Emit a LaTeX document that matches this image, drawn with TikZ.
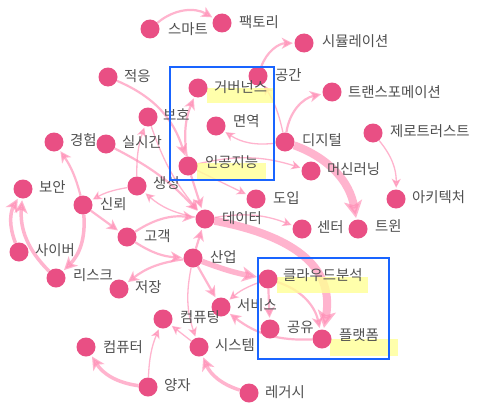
\documentclass[tikz,border=0pt]{standalone}
\usepackage{fontspec}
\setmainfont{Noto Sans CJK KR}
\usetikzlibrary{arrows.meta,backgrounds}
\definecolor{dotc}{RGB}{233,79,132}
\definecolor{edgec}{RGB}{255,140,180}
\definecolor{txtc}{RGB}{80,80,80}
\definecolor{hl}{RGB}{255,255,150}
\definecolor{boxc}{RGB}{25,100,255}
\begin{document}
\begin{tikzpicture}[x=1pt,y=1pt,
 dot/.style={circle,fill=dotc,minimum size=19pt,inner sep=0pt},
 lbl/.style={anchor=west,inner sep=0pt,text=txtc,font=\fontsize{14.4pt}{15pt}\selectfont},
 edg/.style={draw=edgec,opacity=0.65,shorten >=1.5pt},
 ea/.style={edg,line width=1.3pt,-{Stealth[length=9pt,width=9pt,inset=2.5pt]}},
 eb/.style={edg,line width=2.2pt,-{Stealth[length=11pt,width=11pt,inset=3pt]}},
 ec/.style={edg,line width=3.5pt,-{Stealth[length=13pt,width=13pt,inset=3.5pt]}},
 edd/.style={edg,line width=5.5pt,-{Stealth[length=15pt,width=15pt,inset=4pt]}},
 ee/.style={edg,line width=8pt,-{Stealth[length=17pt,width=18pt,inset=4pt]}},
 hlbox/.style={fill=hl,opacity=0.8},
 frame/.style={draw=boxc,line width=2pt}]
\useasboundingbox (0,-404) rectangle (478,0);
% nodes
\node[dot] (smart) at (150,-29) {};      \node[lbl] (lsmart) at (168,-29) {스마트};
\node[dot] (factory) at (222,-23) {};    \node[lbl] (lfactory) at (239,-22) {팩토리};
\node[dot] (simul) at (304,-43) {};      \node[lbl] (lsimul) at (322,-41) {시뮬레이션};
\node[dot] (space) at (258,-76) {};      \node[lbl] (lspace) at (275,-75) {공간};
\node[dot] (trans) at (332,-92) {};      \node[lbl] (ltrans) at (348,-92) {트랜스포메이션};
\node[dot] (zero) at (373,-133) {};      \node[lbl] (lzero) at (390,-131) {제로트러스트};
\node[dot] (adapt) at (108,-77) {};      \node[lbl] (ladapt) at (124,-76) {적응};
\node[dot] (gov) at (198,-88) {};        \node[lbl] (lgov) at (214,-87) {거버넌스};
\node[dot] (protect) at (148,-117) {};   \node[lbl] (lprotect) at (163,-115) {보호};
\node[dot] (immune) at (216,-126) {};    \node[lbl] (limmune) at (233,-121) {면역};
\node[dot] (digital) at (285,-142) {};   \node[lbl] (ldigital) at (302,-140) {디지털};
\node[dot] (exper) at (54,-142) {};      \node[lbl] (lexper) at (70,-140) {경험};
\node[dot] (realtime) at (106,-144) {};  \node[lbl] (lrealtime) at (122,-142) {실시간};
\node[dot] (ai) at (188,-166) {};        \node[lbl] (lai) at (205,-162) {인공지능};
\node[dot] (ml) at (311,-171) {};        \node[lbl] (lml) at (327,-169) {머신러닝};
\node[dot] (security) at (23,-189) {};   \node[lbl] (lsecurity) at (39,-187) {보안};
\node[dot] (gen) at (137,-186) {};       \node[lbl] (lgen) at (153,-183) {생성};
\node[dot] (intro) at (256,-199) {};     \node[lbl] (lintro) at (273,-198) {도입};
\node[dot] (arch) at (396,-199) {};      \node[lbl] (larch) at (412,-197) {아키텍처};
\node[dot] (trust) at (83,-205) {};      \node[lbl] (ltrust) at (100,-204) {신뢰};
\node[dot] (data) at (205,-219) {};      \node[lbl] (ldata) at (222,-218) {데이터};
\node[dot] (center) at (302,-229) {};    \node[lbl] (lcenter) at (317,-227) {센터};
\node[dot] (twin) at (358,-229) {};      \node[lbl] (ltwin) at (375,-226) {트윈};
\node[dot] (customer) at (127,-237) {};  \node[lbl] (lcustomer) at (144,-236) {고객};
\node[dot] (cyber) at (19,-252) {};      \node[lbl] (lcyber) at (35,-250) {사이버};
\node[dot] (industry) at (193,-258) {};  \node[lbl] (lindustry) at (210,-257) {산업};
\node[dot] (risk) at (56,-278) {};       \node[lbl] (lrisk) at (73,-275) {리스크};
\node[dot] (storage) at (119,-289) {};   \node[lbl] (lstorage) at (135,-287) {저장};
\node[dot] (cloud) at (268,-279) {};     \node[lbl] (lcloud) at (283,-275) {클라우드분석};
\node[dot] (service) at (221,-307) {};   \node[lbl] (lservice) at (237,-305) {서비스};
\node[dot] (computing) at (163,-319) {}; \node[lbl] (lcomputing) at (180,-317) {컴퓨팅};
\node[dot] (share) at (270,-329) {};     \node[lbl] (lshare) at (287,-327) {공유};
\node[dot] (platform) at (322,-339) {};  \node[lbl] (lplatform) at (339,-335) {플랫폼};
\node[dot] (system) at (199,-347) {};    \node[lbl] (lsystem) at (215,-345) {시스템};
\node[dot] (computer) at (86,-347) {};   \node[lbl] (lcomputer) at (103,-347) {컴퓨터};
\node[dot] (quantum) at (148,-387) {};   \node[lbl] (lquantum) at (164,-385) {양자};
\node[dot] (legacy) at (249,-393) {};    \node[lbl] (llegacy) at (265,-392) {레거시};
% frames
\draw[frame] (170,-67) rectangle (274,-180);
\draw[frame] (258,-258) rectangle (389,-359);
\begin{pgfonlayer}{background}
\fill[white] (0,-404) rectangle (478,0);
\draw[eb] (smart) to[bend left=35] (factory);
\draw[eb] (space) to[bend left=35] (simul);
\draw[eb] (digital) to[bend left=35] (trans);
\draw[ea] (digital) to[bend right=10] (space);
\draw[ea] (digital) to[bend left=20] (immune);
\draw[ee] (digital) to[bend left=30] (twin);
\draw[ea] (ai) to[bend left=15] (ml);
\draw[eb] (ai) to[bend left=15] (gov);
\draw[eb] (adapt) to[bend left=25] (ai);
\draw[ea] (zero) to[bend left=20] (arch);
\draw[eb] (trust) to[bend right=10] (exper);
\draw[ec] (trust) to[bend left=25] (risk);
\draw[ec] (risk) to[bend left=25] (security);
\draw[ec] (cyber) to[bend left=25] (security);
\draw[ea] (gen) to[bend right=10] (trust);
\draw[ea] (data) to[bend left=15] (gen);
\draw[eb] (realtime) to[bend left=10] (data);
\draw[ea] (protect) to[bend right=10] (data);
\draw[eb] (ai) to (data);
\draw[ea] (gen) to[bend left=10] (protect);
\draw[eb] (trust) to (customer);
\draw[eb] (customer) to[bend right=15] (industry);
\draw[eb] (customer) to[bend left=20] (data);
\draw[eb] (industry) to (data);
\draw[eb] (industry) to[bend right=15] (storage);
\draw[eb] (industry) to (service);
\draw[ea] (industry) to[bend right=15] (system);
\draw[edd] (industry) to[bend right=5] (cloud);
\draw[ee] (data) .. controls (290,-235) and (335,-265) .. (platform);
\draw[eb] (cloud) to[bend left=30] (platform);
\draw[eb] (cloud) to (share);
\draw[ea] (cloud) to[bend right=10] (service);
\draw[eb] (platform) to[bend left=20] (service);
\draw[ea] (system) to (computing);
\draw[ea] (quantum) to[bend left=10] (computing);
\draw[ec] (quantum) to[bend left=25] (computer);
\draw[ec] (legacy) to[bend left=25] (system);
\draw[ea] (data) to[bend left=15] (center);
\draw[ea] (ai) to (intro);
% highlights
\fill[hlbox] (207,-88) rectangle (273,-103);
\fill[hlbox] (197,-163) rectangle (266,-180);
\fill[hlbox] (277,-277) rectangle (368,-293);
\fill[hlbox] (330,-339) rectangle (398,-356);
\end{pgfonlayer}
\end{tikzpicture}
\end{document}
